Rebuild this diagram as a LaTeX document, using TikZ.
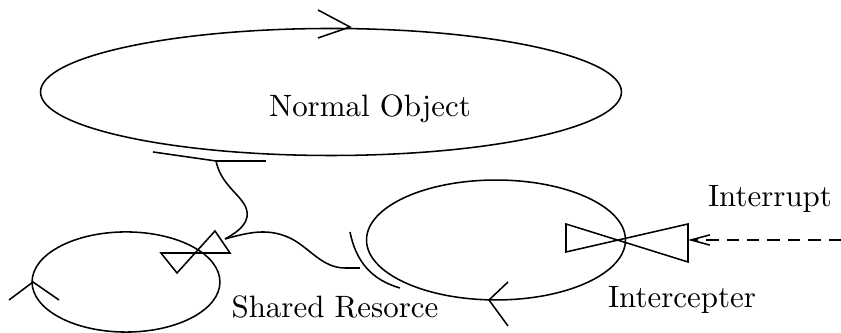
\documentclass[tikz,border=0pt]{standalone}
\usetikzlibrary{shapes.geometric,arrows.meta}

\begin{document}
\begin{tikzpicture}[x=0.3236pt,y=-0.3236pt,line width=0.5pt,
    obj/.style={draw,ellipse,inner sep=0pt},
    lbl/.style={anchor=base,inner sep=0pt}]
    \useasboundingbox (0,0) rectangle (841,333);

    % the three objects
    \node[obj,minimum width=188pt,minimum height=41.1pt] (normal) at (331,92) {};
    \node[obj,minimum width=60.8pt,minimum height=32.4pt] (shared) at (126,282) {};
    \node[obj,minimum width=83.8pt,minimum height=38.8pt] (inter) at (496,240) {};

    % direction marks
    \draw (318,10) -- (350,27) -- (318,38);
    \draw (9,300) -- (33,282) -- (59,300);
    \draw (508,282) -- (489,300) -- (508,326);

    % valves
    \draw (161,253) -- (230,253) -- (215,231) -- (177,273) -- cycle;
    \draw (566,224) -- (566,252) -- (688,224) -- (688,262) -- cycle;

    \path (216,161) coordinate (N);
    \path (225,239) coordinate (V);
    \path (360,268) coordinate (I);
    \path (688,240) coordinate (G);
    \path (841,240) coordinate (E);

    % bond lines
    \draw (153,152) .. controls (185,157) .. (N) -- (266,161);
    \draw (350,232) .. controls (356,262) and (372,280) .. (400,288);

    \draw (N) .. controls (222,190) and (250,198) .. (247,217) .. controls (245,228) and (232,235) .. (V);
    \draw (V) .. controls (250,232) and (268,228) .. (290,238) .. controls (310,248) and (322,268) .. (345,268) -- (I);
    \draw[dash pattern=on 4pt off 2.6pt,-{Straight Barb[length=6.1pt,width=3.3pt]}] (E) -- (G);

    \node[lbl] (nlabel) at (370,117) {Normal Object};
    \node[lbl] (slabel) at (335,318) {Shared Resorce};
    \node[lbl] (ilabel) at (682,308) {Intercepter};
    \node[lbl] (rlabel) at (770,207) {Interrupt};
\end{tikzpicture}
\end{document}
